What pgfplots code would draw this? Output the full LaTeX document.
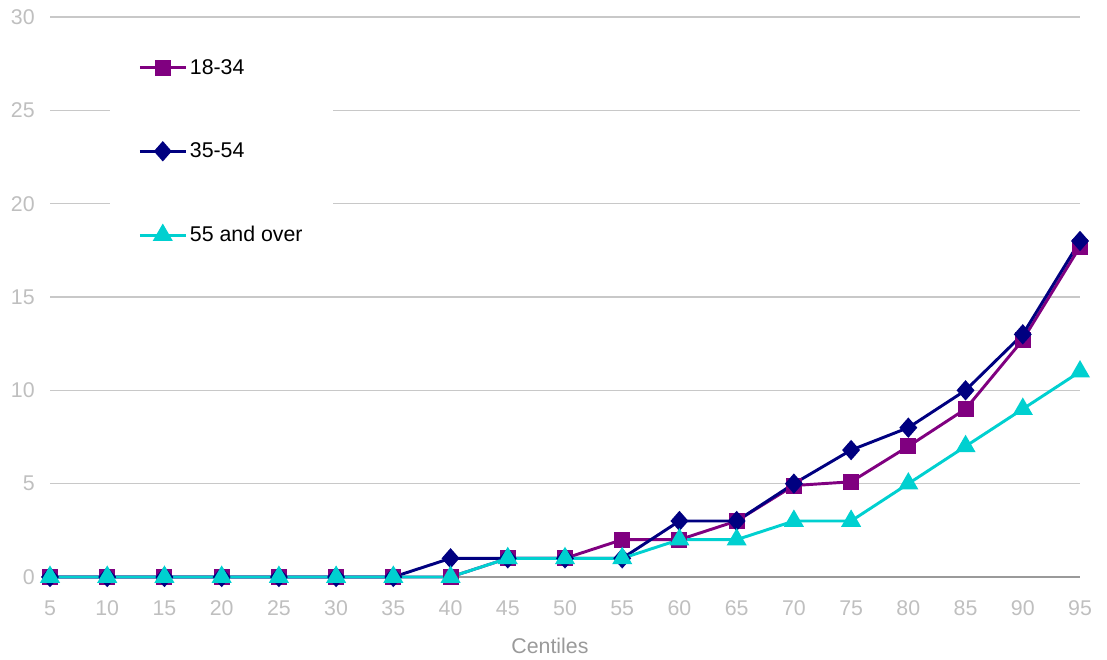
\documentclass[border=0pt]{standalone}
\usepackage{fontspec}
\setmainfont{Liberation Sans}
\usepackage{pgfplots}
\pgfplotsset{compat=1.18}
\definecolor{cA}{HTML}{800080}
\definecolor{cB}{HTML}{000080}
\definecolor{cC}{HTML}{00D0D0}
\definecolor{gridc}{HTML}{C8C8C8}
\definecolor{tickc}{HTML}{BFBFBF}
\definecolor{labc}{HTML}{9A9A9A}
\begin{document}
\begin{tikzpicture}[x=1pt,y=1pt]
\path[use as bounding box] (0,0) rectangle (830.25,495);
\begin{axis}[
  at={(37.5pt,62.25pt)}, anchor=south west,
  scale only axis, width=772.5pt, height=420pt,
  xmin=0, xmax=18, ymin=0, ymax=30,
  xtick={0,...,18}, xticklabels={5,10,15,20,25,30,35,40,45,50,55,60,65,70,75,80,85,90,95},
  ytick={0,5,10,15,20,25,30},
  /pgf/number format/assume math mode=true,
  ymajorgrids, grid style={draw=gridc, line width=0.9pt},
  axis x line*=bottom, axis y line*=left,
  x axis line style={draw=labc, line width=0.9pt, -},
  y axis line style={draw=none},
  major tick length=0pt, tick style={draw=none},
  tick label style={font=\fontsize{16}{19}\selectfont, text=tickc},
  yticklabel style={xshift=-8pt},
  xticklabel style={yshift=-14pt},
  xlabel={Centiles},
  xlabel style={at={(axis description cs:0.4854,0)}, anchor=center, yshift=-51.75pt, font=\fontsize{16}{19}\selectfont, text=labc},
  clip=false,
  legend cell align=left,
  legend image code/.code={\draw[mark repeat=2,mark phase=2] plot coordinates {(0pt,0pt)(17.25pt,0pt)(34.5pt,0pt)};},
  legend style={at={(axis description cs:0.0583,0.975)}, anchor=north west, fill=white, draw=none,
    inner xsep=21pt, inner ysep=19pt, row sep=46pt, font=\fontsize{16}{19}\selectfont, text=black},
]
\addplot[cA, line width=2.2pt, mark=square*, mark size=4.9pt, mark options={solid}] coordinates {
(0,0)(1,0)(2,0)(3,0)(4,0)(5,0)(6,0)(7,0)(8,1)(9,1)(10,2)(11,2)(12,3)(13,4.9)(14,5.1)(15,7)(16,9)(17,12.7)(18,17.7)};
\addlegendentry{18-34}
\addplot[cB, line width=2.2pt, mark=diamond*, mark size=6pt, mark options={solid, xscale=1.17}] coordinates {
(0,0)(1,0)(2,0)(3,0)(4,0)(5,0)(6,0)(7,1)(8,1)(9,1)(10,1)(11,3)(12,3)(13,5)(14,6.8)(15,8)(16,10)(17,13)(18,18)};
\addlegendentry{35-54}
\addplot[cC, line width=2.2pt, mark=triangle*, mark size=6.5pt, mark options={solid}] coordinates {
(0,0)(1,0)(2,0)(3,0)(4,0)(5,0)(6,0)(7,0)(8,1)(9,1)(10,1)(11,2)(12,2)(13,3)(14,3)(15,5)(16,7)(17,9)(18,11)};
\addlegendentry{55 and over}
\end{axis}
\end{tikzpicture}
\end{document}
